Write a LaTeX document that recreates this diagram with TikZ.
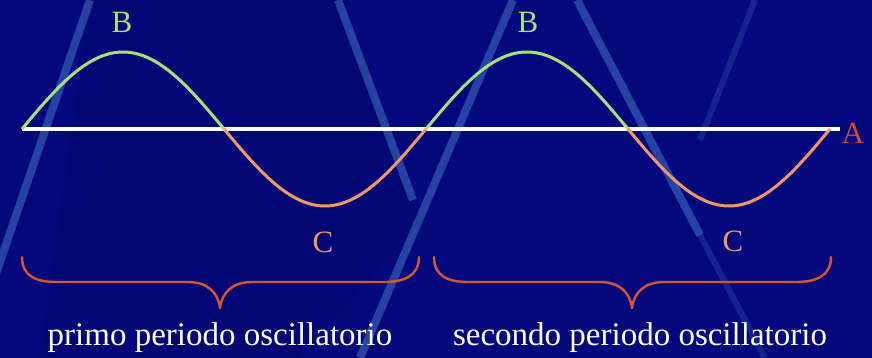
\documentclass[tikz,border=0pt]{standalone}
\usepackage{fontspec}
\setmainfont{Liberation Serif}
\definecolor{bgnavy}{RGB}{4,8,125}
\definecolor{streak}{RGB}{80,140,210}
\definecolor{wavegreen}{RGB}{166,226,122}
\definecolor{waveorange}{RGB}{242,152,100}
\definecolor{bracered}{RGB}{214,88,50}
\definecolor{letterA}{RGB}{210,70,55}
\tikzset{
  x=1pt, y=-1pt,
  streakline/.style={line width=8pt, color=streak, opacity=0.45},
  faintstreak/.style={line width=6pt, color=streak, opacity=0.22},
  wavepart/.style={line width=3pt, smooth, samples=60},
  bracepath/.style={line width=2.4pt, color=bracered, line cap=round, line join=round},
  lbl/.style={inner sep=0pt, font=\fontsize{31}{34}\selectfont},
  caption/.style={inner sep=0pt, anchor=base, text=white, font=\fontsize{33}{36}\selectfont}
}
\begin{document}
\begin{tikzpicture}
\useasboundingbox (0,0) rectangle (872,358);
\fill[bgnavy] (0,0) rectangle (872,358);
% subtle darker regions
\fill[black, opacity=0.06] (90,0) -- (338,0) -- (420,220) -- (300,358) -- (40,358) -- cycle;
% background streaks
\begin{scope}
\clip (0,0) rectangle (872,358);
\draw[streakline] (90,0) -- (-33,358);
\draw[streakline] (338,0) -- (413,200);
\draw[streakline] (513,0) -- (360,358);
\draw[streakline] (577,0) -- (700,235);
\draw[faintstreak] (700,235) -- (765,358);
\draw[faintstreak] (755,0) -- (700,140);
\end{scope}
% axis
\draw[white, line width=4pt] (22,129) -- (840,129);
% wave
\draw[wavepart, wavegreen] plot[domain=22:224] (\x,{129-77*sin(0.891089*(\x-22))});
\draw[wavepart, waveorange] plot[domain=224:426] (\x,{129-77*sin(0.891089*(\x-22))});
\draw[wavepart, wavegreen] plot[domain=426:628] (\x,{129-77*sin(0.891089*(\x-22))});
\draw[wavepart, waveorange] plot[domain=628:830] (\x,{129-77*sin(0.891089*(\x-22))});
% labels
\node[lbl, text=wavegreen] (B1) at (122,22) {B};
\node[lbl, text=wavegreen] (B2) at (528,22) {B};
\node[lbl, text=waveorange] (C1) at (323,242) {C};
\node[lbl, text=waveorange] (C2) at (733,241) {C};
\node[lbl, text=letterA] (A) at (853,133) {A};
% braces
\foreach \s in {0,412}{
\begin{scope}[xshift=\s]
\draw[bracepath] (22,257) .. controls (22,276) and (36,282) .. (56,282) -- (188,282)
  .. controls (207,282) and (218,292) .. (220,308)
  .. controls (222,292) and (233,282) .. (252,282) -- (384,282)
  .. controls (404,282) and (419,276) .. (419,257);
\end{scope}
}
% captions
\node[caption] (t1) at (220,345) {primo periodo oscillatorio};
\node[caption] (t2) at (640,345) {secondo periodo oscillatorio};
\end{tikzpicture}
\end{document}
